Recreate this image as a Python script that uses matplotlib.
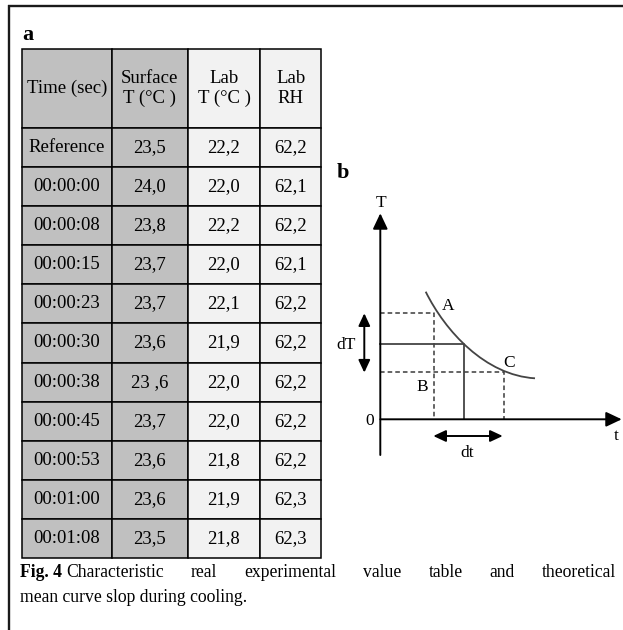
import matplotlib
matplotlib.use("Agg")
import matplotlib.pyplot as plt
from matplotlib.path import Path
from matplotlib.patches import PathPatch

plt.rcParams['font.family'] = ['Liberation Serif', 'DejaVu Serif']

# --- table data (panel a) ---
col_labels = ["Time (sec)", "Surface\nT (°C )", "Lab\nT (°C )", "Lab\nRH"]
times = ["Reference", "00:00:00", "00:00:08", "00:00:15", "00:00:23", "00:00:30",
         "00:00:38", "00:00:45", "00:00:53", "00:01:00", "00:01:08"]
surface_T = ["23,5", "24,0", "23,8", "23,7", "23,7", "23,6", "23 ,6", "23,7", "23,6", "23,6", "23,5"]
lab_T = ["22,2", "22,0", "22,2", "22,0", "22,1", "21,9", "22,0", "22,0", "21,8", "21,9", "21,8"]
lab_RH = ["62,2", "62,1", "62,2", "62,1", "62,2", "62,2", "62,2", "62,2", "62,2", "62,3", "62,3"]

# --- schematic cooling curve (panel b): bezier nodes ---
curve_t = [4.54, 6.5, 10.5, 15.47]
curve_T = [12.76, 8.8, 4.4, 4.10]
pt_A = (5.37, 10.66)
pt_mid = (8.40, 7.50)
pt_C = (12.40, 4.70)

caption_bold = "Fig. 4"
caption_line1 = ["Characteristic", "real", "experimental", "value", "table", "and", "theoretical"]
caption_line2 = "mean curve slop during cooling."

W, H = 623, 630
fig = plt.figure(figsize=(W / 100, H / 100), dpi=100)

# page axes in pixel units
ax_page = fig.add_axes([0, 0, 1, 1])
ax_page.set_xlim(0, W)
ax_page.set_ylim(H, 0)
ax_page.axis('off')
ax_page.plot([8, W], [5.5, 5.5], color='#1a1a1a', lw=1.7, solid_capstyle='butt')
ax_page.plot([8.5, 8.5], [5, H], color='#1a1a1a', lw=1.7, solid_capstyle='butt')
ax_page.text(22, 40, "a", fontsize=16, fontweight='bold', ha='left', va='baseline')
ax_page.text(336.5, 178.3, "b", fontsize=16, fontweight='bold', ha='left', va='baseline')

# --- panel a : table ---
tl, tr, tt, tb = 21.7, 321.0, 49.0, 558.3
ax_t = fig.add_axes([tl / W, 1 - tb / H, (tr - tl) / W, (tb - tt) / H])
ax_t.axis('off')
rows = [[a, b, c, d] for a, b, c, d in zip(times, surface_T, lab_T, lab_RH)]
cells = [col_labels] + rows
grey, light = '#c0c0c0', '#f2f2f2'
colours = [[grey, grey, light, light] for _ in cells]
tbl = ax_t.table(cellText=cells, cellColours=colours, colWidths=[90, 76, 72.6, 60.7],
                 cellLoc='center', bbox=[0, 0, 1, 1])
tbl.auto_set_font_size(False)
tbl.set_fontsize(13.5)
for (r, c), cell in tbl.get_celld().items():
    cell.set_edgecolor('black')
    cell.set_linewidth(1.1)
    if r == 0:
        cell.set_height(cell.get_height() * 2.01)

# --- panel b : schematic ---
bl, br, bt, bb = 330.0, 623.0, 160.0, 470.0
ox, oy = 380.3, 419.3
ax_b = fig.add_axes([bl / W, 1 - bb / H, (br - bl) / W, (bb - bt) / H])
ax_b.set_xlim((bl - ox) / 10, (br - ox) / 10)
ax_b.set_ylim((oy - bb) / 10, (oy - bt) / 10)
ax_b.axis('off')

line_c = '#3a3a3a'
arrow_head = dict(arrowstyle='-|>,head_length=0.95,head_width=0.45', mutation_scale=10,
                  color='black', lw=1.4, shrinkA=0, shrinkB=0)
# T and t axes
ax_b.annotate('', xy=(0, 20.6), xytext=(0, -3.57), arrowprops=arrow_head, annotation_clip=False)
ax_b.annotate('', xy=(24.14, 0), xytext=(0, 0), arrowprops=arrow_head, annotation_clip=False)

dash = dict(color=line_c, lw=1.1, dashes=(3, 2))
ax_b.plot([0, pt_A[0], pt_A[0]], [pt_A[1], pt_A[1], 0], **dash)
ax_b.plot([0, pt_C[0], pt_C[0]], [pt_C[1], pt_C[1], 0], **dash)
ax_b.plot([0, pt_mid[0], pt_mid[0]], [pt_mid[1], pt_mid[1], 0], color='#444444', lw=1.3)
curve = Path(list(zip(curve_t, curve_T)), [Path.MOVETO, Path.CURVE4, Path.CURVE4, Path.CURVE4])
ax_b.add_patch(PathPatch(curve, facecolor='none', edgecolor='#444444', lw=1.3))

dbl = dict(arrowstyle='<|-|>,head_length=0.75,head_width=0.35', mutation_scale=10,
           color='black', lw=1.4, shrinkA=0, shrinkB=0)
ax_b.annotate('', xy=(-1.6, pt_A[1] - 0.06), xytext=(-1.6, pt_C[1] - 0.03), arrowprops=dbl)
ax_b.annotate('', xy=(pt_A[0] - 0.07, -1.67), xytext=(pt_C[0] - 0.16, -1.67), arrowprops=dbl)

lab = dict(fontsize=12.5, ha='center', va='baseline')
ax_b.text(0.04, 21.26, "T", **lab)
ax_b.text(23.64, -2.07, "t", **lab)
ax_b.text(-1.1, -0.57, "0", **lab)
ax_b.text(6.74, 10.93, "A", **lab)
ax_b.text(4.24, 2.86, "B", **lab)
ax_b.text(12.84, 5.20, "C", **lab)
ax_b.text(-3.43, 7.0, "dT", **lab)
ax_b.text(8.7, -3.74, "dt", **lab)

# --- caption (justified first line) ---
cap_size = 12.7
cx0, cx1 = 20.5, 616.0
y1, y2 = 577.0, 602.0
renderer = fig.canvas.get_renderer()
t0 = ax_page.text(cx0, y1, caption_bold, fontsize=cap_size, fontweight='bold', ha='left', va='baseline')
x = cx0 + t0.get_window_extent(renderer).width + 4.0
words = [ax_page.text(0, y1, w, fontsize=cap_size, ha='left', va='baseline') for w in caption_line1]
widths = [w.get_window_extent(renderer).width for w in words]
gap = (cx1 - x - sum(widths)) / (len(words) - 1)
for w, wd in zip(words, widths):
    w.set_x(x)
    x += wd + gap
ax_page.text(cx0, y2, caption_line2, fontsize=cap_size, ha='left', va='baseline')

fig.savefig('out.png', dpi=100)
